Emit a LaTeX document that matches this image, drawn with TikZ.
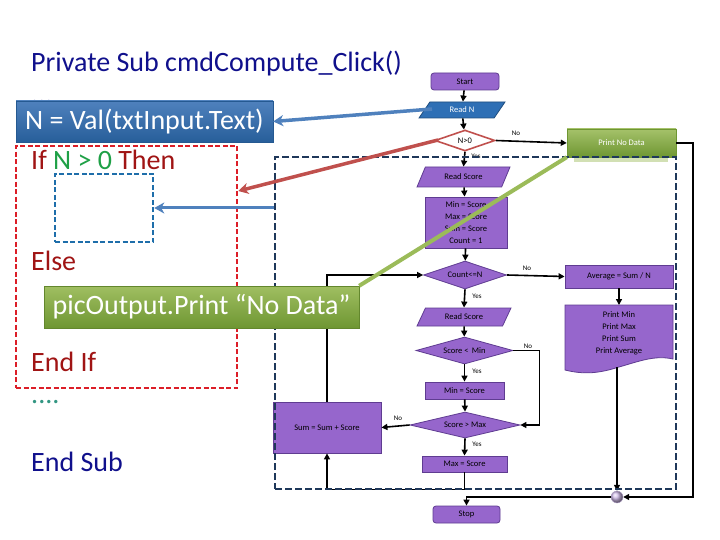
\documentclass[tikz,border=0pt]{standalone}
\usepackage{fontspec}
\setmainfont{Carlito}
\usetikzlibrary{shapes.geometric,arrows.meta,calc}
\definecolor{fpur}{RGB}{150,102,204}
\definecolor{fpurd}{RGB}{95,60,145}
\definecolor{navy}{RGB}{16,16,140}
\definecolor{dred}{RGB}{160,20,20}
\definecolor{cgreen}{RGB}{30,160,70}
\definecolor{tealc}{RGB}{50,150,130}
\definecolor{ablue}{RGB}{79,129,189}
\definecolor{ared}{RGB}{192,80,77}
\definecolor{agreen}{RGB}{155,187,89}
\definecolor{dgreen}{RGB}{110,150,50}
\definecolor{dnavy}{RGB}{31,56,90}
\definecolor{redd}{RGB}{220,30,40}
\definecolor{tblue}{RGB}{30,110,170}
\definecolor{bblue}{RGB}{46,111,181}
\begin{document}
\begin{tikzpicture}[x=1pt,y=-1pt,
  small/.style={font=\fontsize{8.5}{12}\selectfont},
  tiny/.style={font=\fontsize{7}{8}\selectfont},
  big/.style={font=\fontsize{28}{34}\selectfont},
  proc/.style={rectangle, draw=fpurd, fill=fpur, line width=0.8pt, inner sep=0pt, small, align=center},
  term/.style={proc, rounded corners=3pt},
  iobox/.style={trapezium, trapezium left angle=55, trapezium right angle=125, trapezium stretches=true, draw=fpurd, fill=fpur, line width=0.8pt, inner sep=0pt, small},
  decis/.style={diamond, aspect=3, draw=fpurd, fill=fpur, line width=0.8pt, inner sep=0pt, small},
  arr/.style={draw=black, line width=1.6pt, -{Triangle[length=6pt,width=6pt]}},
  ov/.style={line width=3.5pt, -{Stealth[length=10pt,width=11pt,inset=3pt]}},
]
\useasboundingbox (0,0) rectangle (720,540);
\fill[white] (0,0) rectangle (720,540);

% ---------- flowchart nodes ----------
\node[term, minimum width=68pt, minimum height=17pt] (start) at (465,81.5) {Start};
\node[iobox, fill=bblue, draw=bblue!70!black, text=white, minimum width=86pt, minimum height=16pt] (readn) at (462,110) {Read N};
\node[decis, fill=white, draw=ared, line width=1.6pt, minimum width=60pt, minimum height=21pt] (ngt) at (465,140.5) {N>0};
\fill[agreen!45] (574,155) rectangle (668,162);
\node[rectangle, top color=agreen!90!white, bottom color=dgreen, draw=dgreen, text=white, minimum width=109pt, minimum height=28pt, inner sep=0pt, small] (pnd) at (621.5,143) {Print No Data};
\node[iobox, minimum width=93pt, minimum height=20pt] (rs1) at (463.5,177) {Read Score};
\node[proc, minimum width=82pt, minimum height=51pt] (init) at (466,222.5) {Min = Score\\Max = Score\\Sum = Score\\Count = 1};
\node[decis, minimum width=83pt, minimum height=28pt] (cnt) at (465,275) {Count<=N};
\node[proc, minimum width=108pt, minimum height=23pt] (avg) at (619,276.5) {Average = Sum / N};
\fill[fpur, draw=fpurd, line width=0.8pt] (565,305) -- (673,305) -- (673,359)
  .. controls (655,355) and (640,361) .. (619,367)
  .. controls (600,373) and (585,375) .. (565,370) -- cycle;
\node[small, align=center] (doc) at (619,333) {Print Min\\Print Max\\Print Sum\\Print Average};
\coordinate (docb) at (617,367);
\coordinate (doct) at (619,305);
\node[iobox, minimum width=94pt, minimum height=18pt] (rs2) at (464,317) {Read Score};
\node[decis, minimum width=97pt, minimum height=27pt] (smin) at (464.5,350.5) {Score <\, Min};
\node[proc, minimum width=79pt, minimum height=17pt] (minsc) at (464.5,390.5) {Min = Score};
\node[decis, minimum width=110pt, minimum height=26pt] (smax) at (465,425) {Score > Max};
\node[proc, minimum width=108pt, minimum height=51pt] (sum) at (327,427.5) {Sum = Sum + Score};
\node[proc, minimum width=85pt, minimum height=16pt] (maxsc) at (464.5,464) {Max = Score};
\node[term, minimum width=67pt, minimum height=17pt] (stop) at (466.5,514.5) {Stop};
\node[circle, minimum size=12pt, inner sep=0pt, draw=fpurd!50, shading=ball, ball color=fpur!45] (jn) at (617,497) {};

% ---------- connectors ----------
\draw[arr] (start) -- (readn);
\draw[arr] (readn) -- (ngt);
\draw[arr] (ngt.east) -- (pnd.west);
\draw[arr] (ngt.south) -- (rs1.north);
\draw[arr] (rs1) -- (init);
\draw[arr] (init) -- (cnt);
\draw[arr] (cnt.east) -- (avg.west);
\draw[arr] (cnt.south) -- (rs2.north);
\draw[arr] (rs2) -- (smin);
\draw[arr] (smin.south) -- (minsc.north);
\draw[arr] (minsc) -- (smax.north);
\draw[arr] (smin.east) -- ++(26,0) |- (smax.east);
\draw[arr] (smax.west) -- (sum.east);
\draw[arr] (smax.south) -- (maxsc.north);
\draw[arr] (maxsc.south) -- ++(0,17) -| (sum.south);
\draw[arr] (sum.north) |- (cnt.west);
\draw[arr] (avg.south) -- (doct);
\draw[arr] (docb) -- (jn.north);
\draw[arr] (pnd.east) -- ++(17,0) |- (jn.east);
\draw[arr] (jn.west) -| (stop.north);

% ---------- labels ----------
\node[tiny] (l1) at (516,133) {No};
\node[tiny] (l2) at (476,156) {Yes};
\node[tiny] (l3) at (527,268) {No};
\node[tiny] (l4) at (477,296) {Yes};
\node[tiny] (l5) at (528,346) {No};
\node[tiny] (l6) at (477,371) {Yes};
\node[tiny] (l7) at (398,418) {No};
\node[tiny] (l8) at (477,444) {Yes};

% ---------- dashed loop frame ----------
\node[draw=dnavy, dash pattern=on 7pt off 3pt, line width=2.5pt, minimum width=401pt, minimum height=332pt, inner sep=0pt] (loop) at (475.5,323) {};

% ---------- code text ----------
\node[big, text=navy, anchor=base west, inner sep=0pt] (title) at (31,72) {Private Sub cmdCompute\_Click()};
\node[big, text=navy, anchor=base west, inner sep=0pt] (dots1) at (31,104) {...};
\node[big, text=dred, anchor=base west, inner sep=0pt] (ifl) at (31,170) {If \textcolor{cgreen}{N > 0} Then};
\node[big, text=dred, anchor=base west, inner sep=0pt] (elsel) at (31,270) {Else};
\node[big, text=dred, anchor=base west, inner sep=0pt] (endif) at (31,371) {End If};
\node[big, text=tealc, anchor=base west, inner sep=0pt] (dots2) at (31,403) {....};
\node[big, text=navy, anchor=base west, inner sep=0pt] (endsub) at (31,471) {End Sub};

\node[draw=redd, dash pattern=on 5pt off 2.5pt, line width=2.5pt, minimum width=221pt, minimum height=242pt, inner sep=0pt] (ifbox) at (126.5,267) {};
\node[draw=tblue, dash pattern=on 5pt off 2.5pt, line width=2.5pt, minimum width=98pt, minimum height=68pt, inner sep=0pt] (thenbox) at (104,208) {};

\node[big, top color=ablue, bottom color=bblue!85!black, draw=bblue!80!black, text=white, minimum width=257pt, minimum height=41pt, inner sep=0pt] (valbox) at (144.5,121.5) {N = Val(txtInput.Text)};
\node[big, top color=agreen!95!white, bottom color=dgreen, draw=dgreen!90!black, text=white, minimum width=315pt, minimum height=42pt, inner sep=0pt] (pic) at (201.5,307) {picOutput.Print “No Data"};

% ---------- overlay pointers ----------
\coordinate (bsrc) at (432,109);
\coordinate (rsrc) at (438,140);
\draw[ov, draw=ablue, fill=ablue] (bsrc) -- (valbox.east);
\draw[ov, draw=ared, fill=ared] (rsrc) -- (ifbox.east |- 0,191);
\draw[ov, draw=ablue, fill=ablue, line width=3pt] (loop.west |- thenbox.east) -- (thenbox.east);
\draw[draw=agreen, line width=4pt] (pnd.south west) -- (pic.north east);
\end{tikzpicture}
\end{document}
